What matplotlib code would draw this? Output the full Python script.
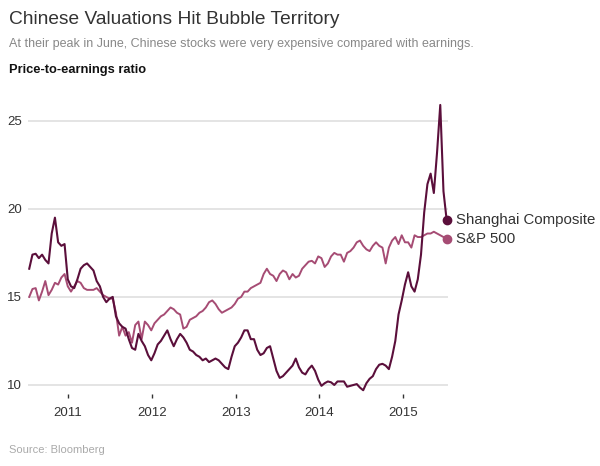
import matplotlib
matplotlib.use('Agg')
import matplotlib.pyplot as plt
import numpy as np
import pandas as pd

# biweekly readings, mid-July 2010 to July 10 2015
dates = pd.date_range('2010-07-16', '2015-07-10', freq='14D')

shanghai = [
    16.6, 17.4, 17.45, 17.2, 17.4, 17.1, 16.9, 18.6, 19.5, 18.1,
    17.9, 18.0, 16.0, 15.6, 15.5, 16.0, 16.6, 16.8, 16.9, 16.7,
    16.5, 15.9, 15.6, 15.0, 14.7, 14.9, 15.0, 13.9, 13.5, 13.3,
    13.2, 12.6, 12.1, 12.0, 12.9, 12.5, 12.2, 11.7, 11.4, 11.8,
    12.3, 12.5, 12.8, 13.1, 12.6, 12.2, 12.6, 12.9, 12.7, 12.4,
    12.0, 11.9, 11.7, 11.6, 11.4, 11.5, 11.3, 11.4, 11.5, 11.4,
    11.2, 11.0, 10.9, 11.6, 12.2, 12.4, 12.7, 13.1, 13.1, 12.6,
    12.6, 12.0, 11.7, 11.8, 12.1, 12.2, 11.5, 10.8, 10.4, 10.5,
    10.7, 10.9, 11.1, 11.5, 11.0, 10.7, 10.6, 10.9, 11.1, 10.8,
    10.3, 9.95, 10.1, 10.2, 10.15, 10.0, 10.2, 10.2, 10.2, 9.9,
    9.95, 10.0, 10.05, 9.85, 9.7, 10.1, 10.35, 10.5, 10.9, 11.15,
    11.2, 11.1, 10.9, 11.6, 12.5, 14.0, 14.8, 15.7, 16.4, 15.6,
    15.3, 16.0, 17.4, 19.8, 21.4, 22.0, 20.9, 23.2, 25.9, 21.0,
    19.35,
]

sp500 = [
    15.0, 15.45, 15.5, 14.8, 15.3, 15.9, 15.1, 15.4, 15.8, 15.7,
    16.1, 16.3, 15.6, 15.3, 15.6, 15.9, 15.8, 15.5, 15.4, 15.4,
    15.4, 15.5, 15.3, 15.1, 15.0, 14.9, 14.9, 14.1, 12.8, 13.3,
    12.8, 13.0, 12.4, 13.4, 13.6, 12.6, 13.6, 13.4, 13.1, 13.5,
    13.7, 13.9, 14.0, 14.2, 14.4, 14.3, 14.1, 14.0, 13.2, 13.3,
    13.7, 13.8, 13.9, 14.1, 14.2, 14.4, 14.7, 14.8, 14.6, 14.3,
    14.1, 14.2, 14.3, 14.4, 14.6, 14.9, 15.0, 15.3, 15.3, 15.5,
    15.6, 15.7, 15.8, 16.3, 16.6, 16.3, 16.2, 15.9, 16.3, 16.5,
    16.4, 16.0, 16.3, 16.1, 16.2, 16.6, 16.8, 17.0, 17.05, 16.9,
    17.3, 17.2, 16.7, 16.9, 17.3, 17.5, 17.4, 17.4, 17.0, 17.5,
    17.6, 17.8, 18.1, 18.2, 17.9, 17.7, 17.6, 17.9, 18.1, 17.9,
    17.8, 16.9, 17.8, 18.2, 18.4, 18.0, 18.5, 18.1, 18.1, 17.8,
    18.5, 18.4, 18.4, 18.5, 18.6, 18.6, 18.7, 18.6, 18.5, 18.4,
    18.3,
]

series_names = ['Shanghai Composite', 'S&P 500']
y_ticks = [10, 15, 20, 25]
year_ticks = [2011, 2012, 2013, 2014, 2015]

dark = '#5b0f3b'
light = '#a64c74'
font = 'Liberation Sans'

fig = plt.figure(figsize=(6, 4.66), dpi=100)
ax = fig.add_axes([0.0472, 0.155, 0.6988, 0.630])

ax.plot(dates, sp500, color=light, lw=1.4, zorder=3)
ax.plot(dates, shanghai, color=dark, lw=1.5, zorder=4)
# end dots
ax.plot(dates[-1], sp500[-1], 'o', color=light, ms=6, zorder=5, clip_on=False)
ax.plot(dates[-1], shanghai[-1], 'o', color=dark, ms=6, zorder=6, clip_on=False)

ax.annotate(series_names[0], xy=(dates[-1], shanghai[-1]), xytext=(7, 0),
            textcoords='offset points', va='center', ha='left',
            fontsize=10.8, color='#333333', family=font)
ax.annotate(series_names[1], xy=(dates[-1], sp500[-1]), xytext=(7, 0),
            textcoords='offset points', va='center', ha='left',
            fontsize=10.8, color='#333333', family=font)

ax.set_xlim(pd.Timestamp('2010-07-12'), pd.Timestamp('2015-07-14'))
ax.set_ylim(9.5, 26.17)

ax.set_yticks(y_ticks)
ax.set_yticklabels([str(t) for t in y_ticks])
ax.set_xticks([pd.Timestamp(f'{y}-01-01') for y in year_ticks])
ax.set_xticklabels([str(y) for y in year_ticks])

ax.grid(axis='y', color='#e2e2e2', lw=1.3, zorder=0)
ax.set_axisbelow(True)
for s in ax.spines.values():
    s.set_visible(False)

ax.tick_params(axis='y', length=0, pad=4.5, labelsize=9.5, labelcolor='#333333')
ax.tick_params(axis='x', length=3.2, width=1, color='#333333', pad=6,
               labelsize=9.5, labelcolor='#333333')
for lbl in ax.get_xticklabels() + ax.get_yticklabels():
    lbl.set_family(font)

fig.text(0.015, 0.959, 'Chinese Valuations Hit Bubble Territory', fontsize=13.8,
         color='#333333', va='center', ha='left', family=font)
fig.text(0.015, 0.9056,
         'At their peak in June, Chinese stocks were very expensive compared with earnings.',
         fontsize=9, color='#888888', va='center', ha='left', family=font)
fig.text(0.015, 0.85, 'Price-to-earnings ratio', fontsize=9.3, fontweight='bold',
         color='#111111', va='center', ha='left', family=font)
fig.text(0.015, 0.034, 'Source: Bloomberg', fontsize=8, color='#aaaaaa',
         va='center', ha='left', family=font)

fig.savefig('out.png', dpi=100)
